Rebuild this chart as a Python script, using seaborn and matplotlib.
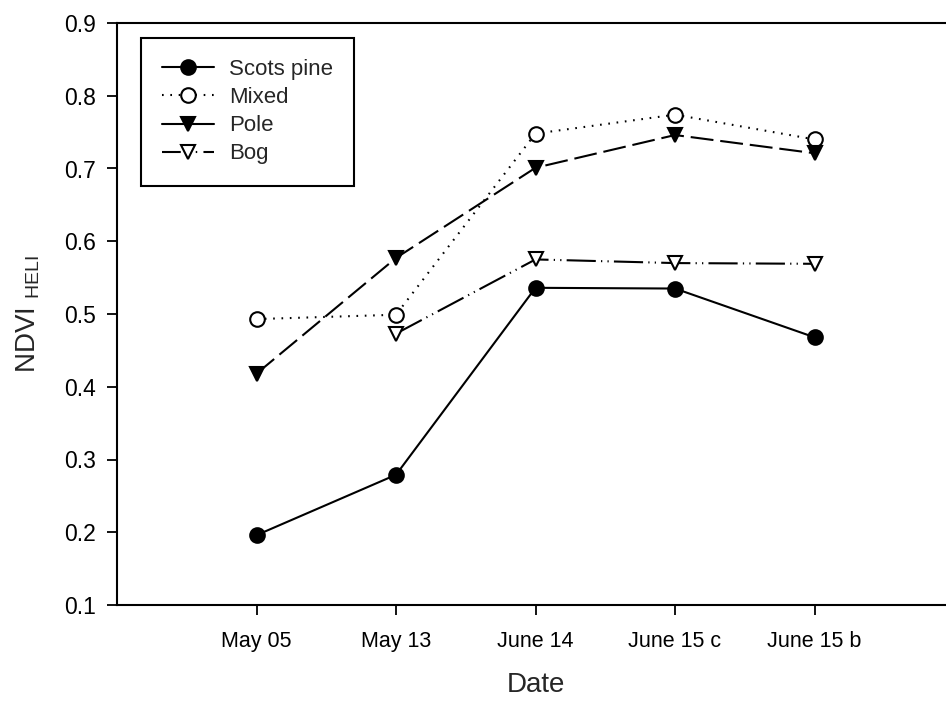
import numpy as np
import pandas as pd
import seaborn as sns
import matplotlib
matplotlib.use("Agg")
import matplotlib.pyplot as plt
from matplotlib.lines import Line2D

# Sampling dates (categorical x axis)
dates = ["May 05", "May 13", "June 14", "June 15 c", "June 15 b"]

# NDVI_HELI per stand type
scots_pine = [0.196, 0.279, 0.536, 0.535, 0.468]
mixed = [0.493, 0.499, 0.748, 0.774, 0.740]
pole = [0.418, 0.577, 0.701, 0.746, 0.721]
bog = [np.nan, 0.473, 0.575, 0.570, 0.569]

series_names = ["Scots pine", "Mixed", "Pole", "Bog"]
series_values = [scots_pine, mixed, pole, bog]

sns.set_theme(style="ticks")
plt.rcParams["font.family"] = ["Liberation Sans", "DejaVu Sans"]
plt.rcParams["mathtext.fontset"] = "custom"
plt.rcParams["mathtext.rm"] = "Liberation Sans"

rows = []
for name, vals in zip(series_names, series_values):
    for i, v in enumerate(vals):
        rows.append({"pos": i, "date": dates[i], "stand": name, "ndvi": v})
df = pd.DataFrame(rows)

fig = plt.figure(figsize=(9.46, 7.01), dpi=100)
ax = fig.add_axes([117 / 946, 96 / 701, 837 / 946, 582 / 701])

LW = 1.5
styles = {
    "Scots pine": dict(marker="o", mfc="black", ls="-", leg_ls="-"),
    "Mixed": dict(marker="o", mfc="white", ls=(0, (0.8, 3.2)), leg_ls=(0, (0.8, 3.2))),
    "Pole": dict(marker="v", mfc="black", ls=(0, (11, 3.3)), leg_ls="-"),
    "Bog": dict(marker="v", mfc="white", ls=(0, (14, 2.5, 0.6, 2.5, 0.6, 2.5)),
                leg_ls=(0, (9, 3.5, 0.7, 3.0, 0.7, 3.0))),
}

for name in series_names:
    sub = df[df["stand"] == name].dropna()
    st = styles[name]
    sns.lineplot(
        data=sub, x="pos", y="ndvi", ax=ax, color="black",
        linewidth=LW, linestyle=st["ls"], marker=st["marker"],
        markersize=10.5, markerfacecolor=st["mfc"], markeredgecolor="black",
        markeredgewidth=1.5, sort=False, legend=False,
    )

ax.set_xlim(-1, 5)
ax.set_ylim(0.1, 0.9)
ax.set_xticks(range(len(dates)))
ax.set_xticklabels(dates, fontsize=15.5)
yt = np.arange(0.1, 0.91, 0.1)
ax.set_yticks(yt)
ax.set_yticklabels([f"{t:.1f}" for t in yt], fontsize=16.5)
ax.tick_params(axis="both", direction="out", length=7, width=1.3, colors="black")
ax.tick_params(axis="x", pad=12)
ax.tick_params(axis="y", pad=8)

ax.set_xlabel("Date", fontsize=20, labelpad=14)
ax.set_ylabel(r"NDVI $_{\mathrm{HELI}}$", fontsize=20, labelpad=16)

for side in ["left", "bottom", "top"]:
    ax.spines[side].set_linewidth(1.5)
    ax.spines[side].set_color("black")
ax.spines["right"].set_visible(False)

handles = [
    Line2D([], [], color="black", lw=LW, ls=styles[n]["leg_ls"], marker=styles[n]["marker"],
           markersize=10.5, markerfacecolor=styles[n]["mfc"], markeredgecolor="black",
           markeredgewidth=1.5)
    for n in series_names
]
leg = ax.legend(
    handles, series_names,
    loc="upper left", bbox_to_anchor=(24 / 837, 1 - 15 / 582), fontsize=16,
    frameon=True, fancybox=False, edgecolor="black", framealpha=1,
    handlelength=2.35, handletextpad=0.65, borderpad=0.95, labelspacing=0.32,
    borderaxespad=0, numpoints=1,
)
leg.get_frame().set_linewidth(1.5)

fig.savefig("out.png", dpi=100)
